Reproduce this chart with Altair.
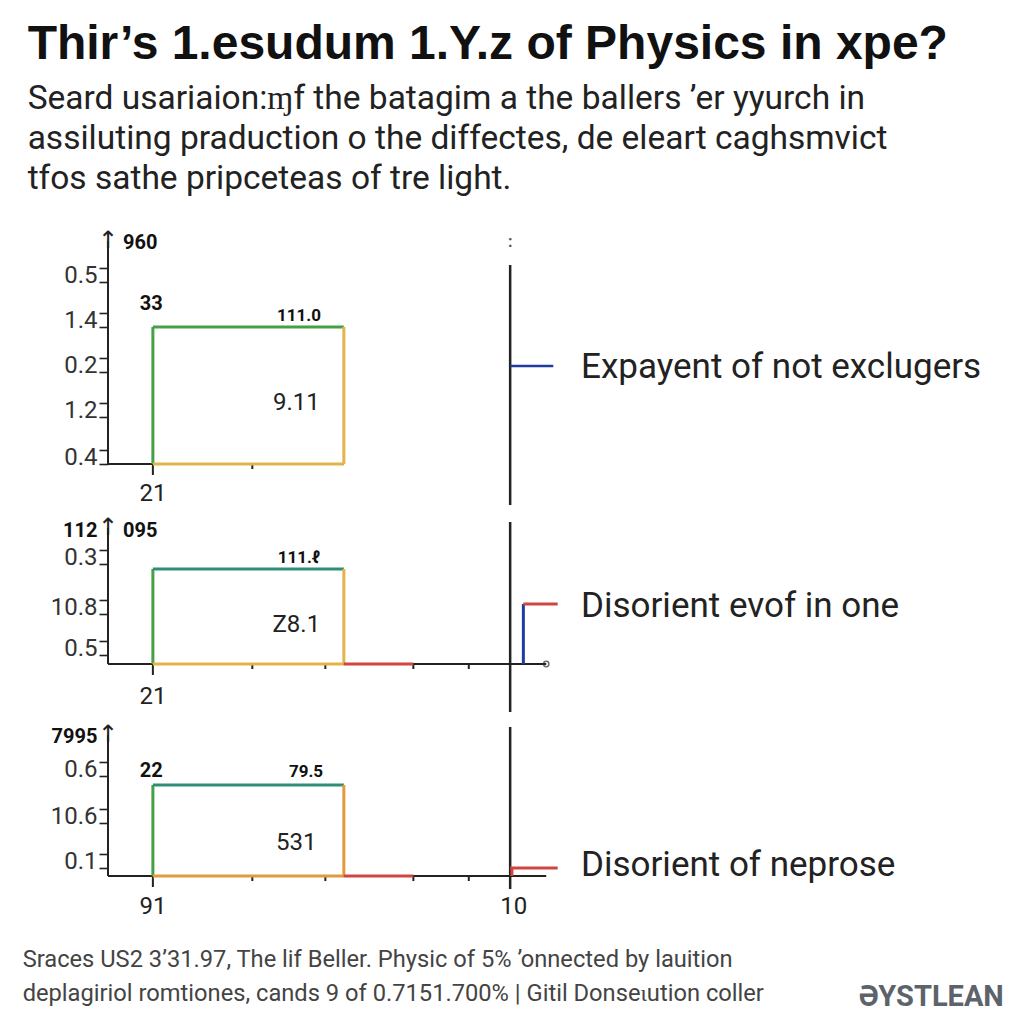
import json
import altair as alt
import pandas as pd

# ---------------- text ----------------
TITLE = "Thir’s 1.esudum 1.Y.z of Physics in xpe?"
SUBTITLE = [
    "Seard usariaion:ɱf the batagim a the ballers ʼer yyurch in",
    "assiluting praduction o the diffectes, de eleart caghsmvict",
    "tfos sathe pripceteas  of tre light.",
]
FOOTER = [
    "Sraces US2 3’31.97, The lif Beller. Physic of 5% ’onnected by lauition",
    "deplagiriol romtiones, cands 9 of 0.7151.700% | Gitil Donseɩution coller",
]
BRAND = "ƏYSTLEAN"
LEGEND = ["Expayent of not exclugers", "Disorient evof in one", "Disorient of neprose"]

# ---------------- panel values ----------------
# panel 1
P1_YDOM = [-21.5, 115.5]
P1_TICK_VALUES = [94.5, 72.0, 49.5, 27.0, 3.5]
P1_TICK_LABELS = ["0.5", "1.4", "0.2", "1.2", "0.4"]
P1_RECT = [5.1, 26.8, 68.5]          # left, right, top
P1_XTICKS = [16.4]
P1_BOLD_C = [("33", 4.9, 80.0, 20), ("111.0", 21.7, 74.0, 17)]
P1_BOLD_L = [("960", 1.7, 110.5)]
P1_BOLD_R = []
P1_VALUE = [("9.11", 21.4, 30.5)]
P1_UNDER = [("21", 5.1, -15.0)]
P1_VLINE = [45.7, -20.5, 99.5]
P1_LEGEND_Y = 49.0

# panel 2
P2_YDOM = [-25.0, 72.0]
P2_TICK_VALUES = [53.5, 28.5, 8.0]
P2_TICK_LABELS = ["0.3", "10.8", "0.5"]
P2_RECT = [5.1, 26.8, 47.5]
P2_XTICKS = [16.4, 24.7, 34.7, 41.0]
P2_BOLD_C = [("111.ℓ", 21.7, 53.0, 17)]
P2_BOLD_L = [("095", 1.7, 66.5)]
P2_BOLD_R = [("112", -1.2, 66.5)]
P2_VALUE = [("Z8.1", 21.4, 19.5)]
P2_UNDER = [("21", 5.1, -16.5)]
P2_VLINE = [45.7, -24.0, 71.0]
P2_LEGEND_Y = 30.0

# panel 3
P3_YDOM = [-7.5, 74.5]
P3_TICK_VALUES = [53.5, 30.0, 7.5]
P3_TICK_LABELS = ["0.6", "10.6", "0.1"]
P3_RECT = [5.1, 26.8, 45.5]
P3_XTICKS = [16.4, 24.7, 34.7, 41.0]
P3_BOLD_C = [("22", 4.9, 52.5, 20), ("79.5", 22.5, 52.0, 17)]
P3_BOLD_L = []
P3_BOLD_R = [("7995", -1.2, 69.5)]
P3_VALUE = [("531", 21.4, 16.5)]
P3_UNDER = [("91", 5.1, -15.5), ("10", 46.1, -15.5)]
P3_VLINE = [45.7, -6.5, 74.5]
P3_LEGEND_Y = 4.0

RED_END = 34.7
BASE_END = 49.8
LEG_X = [45.7, 51.1, 53.75]
STEP_X = 47.2

GREEN = "#46a046"
TEAL = "#2f8f76"
GOLD = "#e4b44a"
ORANGE = "#e39a3a"
RED = "#d2443f"
BLUE = "#1f3c9e"
INK = "#222222"

XS = alt.Scale(domain=[0, 100], nice=False, zero=False)
W = 880


def seg(x, x2, y, y2, c, w):
    return {"x": x, "x2": x2, "y": y, "y2": y2, "c": c, "w": w}


def text_layer(rows, ys, yaxis, **mark):
    df = pd.DataFrame(rows, columns=["t", "x", "y"])
    return alt.Chart(df).mark_text(**mark).encode(
        x=alt.X("x:Q", scale=XS, axis=None),
        y=alt.Y("y:Q", scale=ys, axis=yaxis),
        text="t:N",
    )


def sized_text_layer(rows, ys, yaxis, **mark):
    df = pd.DataFrame(rows, columns=["t", "x", "y", "s"])
    return alt.Chart(df).mark_text(**mark).encode(
        x=alt.X("x:Q", scale=XS, axis=None),
        y=alt.Y("y:Q", scale=ys, axis=yaxis),
        text="t:N",
        size=alt.Size("s:Q", scale=None, legend=None),
    )


def panel(h, ydom, tvals, tlabels, rect, xticks, bold_c, bold_l, bold_r, value, under,
          vline, top_color, right_color, red_ext, extra_segs, legend_text, legend_y,
          extra_layers_fn=None):
    ys = alt.Scale(domain=ydom, nice=False, zero=False)
    L, R, T = rect
    top = ydom[1]
    segs = [
        seg(0, 0, 0, top - 4, INK, 2),
        seg(0, R if not red_ext else BASE_END, 0, 0, INK, 2),
        seg(L, L, 0, -5.5, INK, 2),
    ]
    segs += [seg(xt, xt, 0, -2.5, INK, 2) for xt in xticks]
    segs += [
        seg(L, L, 0, T, GREEN, 3),
        seg(L, R, T, T, top_color, 3),
        seg(R, R, 0, T, right_color, 3),
        seg(L, R, 0, 0, right_color, 3),
    ]
    if red_ext:
        segs.append(seg(R, RED_END, 0, 0, RED, 3))
    segs.append(seg(vline[0], vline[0], vline[1], vline[2], INK, 2.5))
    segs += extra_segs

    upper = [v + 3.5 for v in tvals]
    lower = [v - 3.5 for v in tvals]
    expr = (f"indexof({json.dumps(upper)}, datum.value) >= 0 ? "
            f"{json.dumps(tlabels)}[indexof({json.dumps(upper)}, datum.value)] : ''")
    yaxis = alt.Axis(
        values=upper + lower, labelExpr=expr, domain=False, grid=False,
        ticks=True, tickSize=9, tickWidth=1.6, tickColor=INK,
        labelFontSize=24, labelFont="Roboto", labelColor="#333333",
        labelPadding=2, labelOffset=7, labelOverlap=False, title=None)

    rules = alt.Chart(pd.DataFrame(segs)).mark_rule(strokeCap="butt").encode(
        x=alt.X("x:Q", scale=XS, axis=None),
        x2="x2:Q",
        y=alt.Y("y:Q", scale=ys, axis=yaxis),
        y2="y2:Q",
        color=alt.Color("c:N", scale=None),
        strokeWidth=alt.StrokeWidth("w:Q", scale=None),
    )
    layers = [rules]
    layers.append(text_layer([("↑", 0, top)], ys, yaxis, font="DejaVu Sans", fontSize=24,
                             baseline="top", align="center", color=INK, dy=-4))
    if bold_c:
        layers.append(sized_text_layer(bold_c, ys, yaxis, font="Roboto", fontWeight="bold",
                                       align="center", baseline="middle", color="#111111"))
    if bold_l:
        layers.append(text_layer(bold_l, ys, yaxis, font="Roboto", fontWeight="bold", fontSize=20,
                                 align="left", baseline="middle", color="#111111"))
    if bold_r:
        layers.append(text_layer(bold_r, ys, yaxis, font="Roboto", fontWeight="bold", fontSize=20,
                                 align="right", baseline="middle", color="#111111"))
    layers.append(text_layer(value, ys, yaxis, font="Roboto", fontSize=24, align="center",
                             baseline="middle", color="#222222"))
    layers.append(text_layer(under, ys, yaxis, font="Roboto", fontSize=24, align="center",
                             baseline="middle", color="#222222"))
    layers.append(text_layer([(legend_text, LEG_X[2], legend_y)], ys, yaxis, font="Roboto",
                             fontSize=35, align="left", baseline="middle", color="#222222"))
    if extra_layers_fn:
        layers += extra_layers_fn(ys, yaxis)
    return alt.layer(*layers).properties(width=W, height=h)


p1 = panel(274, P1_YDOM, P1_TICK_VALUES, P1_TICK_LABELS, P1_RECT, P1_XTICKS,
           P1_BOLD_C, P1_BOLD_L, P1_BOLD_R, P1_VALUE, P1_UNDER, P1_VLINE,
           GREEN, GOLD, False,
           [seg(LEG_X[0], LEG_X[1] - 0.5, P1_LEGEND_Y, P1_LEGEND_Y, BLUE, 2.5)],
           LEGEND[0], P1_LEGEND_Y - 0.5,
           lambda ys, ya: [text_layer([(":", P1_VLINE[0], 111.0)], ys, ya, font="Roboto",
                                      fontWeight="bold", fontSize=16, align="center",
                                      baseline="middle", color="#555555")])

p2 = panel(194, P2_YDOM, P2_TICK_VALUES, P2_TICK_LABELS, P2_RECT, P2_XTICKS,
           P2_BOLD_C, P2_BOLD_L, P2_BOLD_R, P2_VALUE, P2_UNDER, P2_VLINE,
           TEAL, GOLD, True,
           [seg(STEP_X, STEP_X, 0, P2_LEGEND_Y, BLUE, 3),
            seg(STEP_X, LEG_X[1], P2_LEGEND_Y, P2_LEGEND_Y, RED, 3)],
           LEGEND[1], P2_LEGEND_Y - 1,
           lambda ys, ya: [alt.Chart(pd.DataFrame({"x": [BASE_END], "y": [0]})).mark_point(
               shape="circle", filled=False, size=28, color="#333333", strokeWidth=1.5
           ).encode(x=alt.X("x:Q", scale=XS, axis=None), y=alt.Y("y:Q", scale=ys, axis=ya))])

p3 = panel(164, P3_YDOM, P3_TICK_VALUES, P3_TICK_LABELS, P3_RECT, P3_XTICKS,
           P3_BOLD_C, P3_BOLD_L, P3_BOLD_R, P3_VALUE, P3_UNDER, P3_VLINE,
           TEAL, ORANGE, True,
           [seg(LEG_X[0] + 0.2, LEG_X[0] + 0.2, 0, P3_LEGEND_Y, RED, 3),
            seg(LEG_X[0], LEG_X[1], P3_LEGEND_Y, P3_LEGEND_Y, RED, 3)],
           LEGEND[2], P3_LEGEND_Y + 1.5)

FS = alt.Scale(domain=[0, 105], nice=False, zero=False)
foot_df = pd.DataFrame({"t": FOOTER, "x": [-9.7, -9.7], "y": [49, 15]})
foot_text = alt.Chart(foot_df).mark_text(
    font="Roboto", fontSize=23.7, align="left", baseline="middle", color="#444444"
).encode(x=alt.X("x:Q", scale=XS, axis=None), y=alt.Y("y:Q", scale=FS, axis=None), text="t:N")
brand = alt.Chart(pd.DataFrame({"t": [BRAND], "x": [101.8], "y": [12]})).mark_text(
    font="Roboto", fontWeight="bold", fontSize=29, align="right",
    baseline="middle", color="#5c636b"
).encode(x=alt.X("x:Q", scale=XS, axis=None), y=alt.Y("y:Q", scale=FS, axis=None), text="t:N")
footer = alt.layer(foot_text, brand).properties(width=W, height=105)

chart = alt.vconcat(p1, p2, p3, footer, spacing=13, bounds="flush").properties(
    title=alt.TitleParams(
        text=TITLE, subtitle=SUBTITLE, anchor="start", frame="bounds", dx=5, dy=7,
        font="Liberation Sans", fontSize=48, fontWeight="bold", color="#111111",
        subtitleFont="Roboto", subtitleFontSize=33.5, subtitleColor="#222222",
        subtitleLineHeight=40, subtitlePadding=14, offset=41,
    ),
    padding={"left": 14, "top": 12, "right": 5, "bottom": 5},
    background="white",
).configure_view(stroke=None)

chart.save("out.html", embed_options={"renderer": "svg", "actions": False})
